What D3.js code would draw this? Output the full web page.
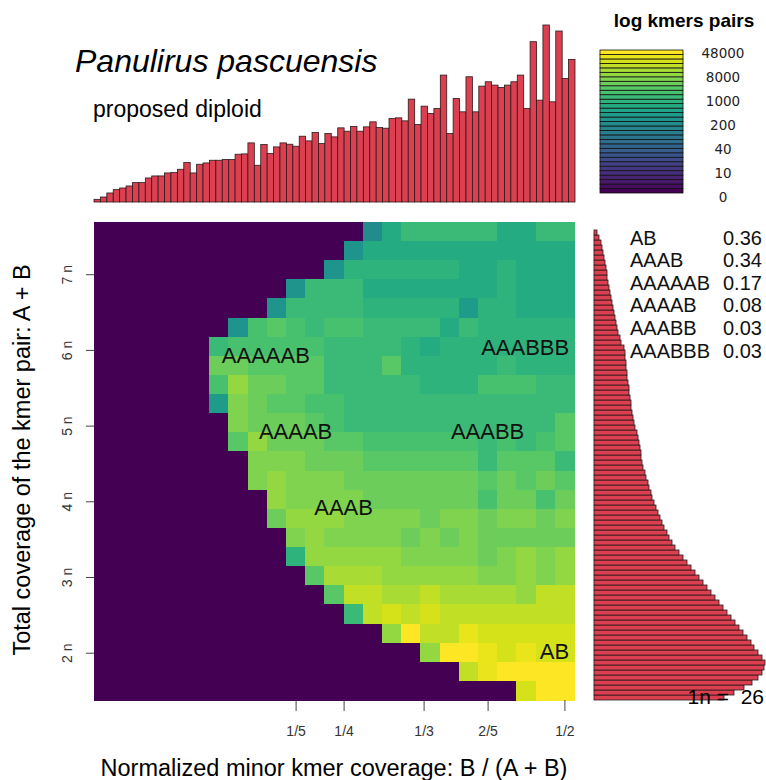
<!DOCTYPE html>
<html>
<head>
<meta charset="utf-8">
<script src="https://d3js.org/d3.v7.min.js"></script>
<style>
  body { margin: 0; background: #fff; }
  svg { display: block; font-family: "Liberation Sans", Arial, sans-serif; }
</style>
</head>
<body>
<div id="chart"></div>
<script>
// smudgeplot of kmer pairs - Panulirus pascuensis

const title = "Panulirus pascuensis";
const subtitle = "proposed diploid";
const oneN = 26;

// heatmap, 25 x 25 cells, rows from top (high coverage) to bottom
// value = position on the log colour scale (0-100), 0 = no kmer pairs
const smudgeRows = [
  [0,0,0,0,0,0,0,0,0,0,0,0,0,0,47,60,66,66,66,66,66,62,62,66,66],
  [0,0,0,0,0,0,0,0,0,0,0,0,0,50,60,61,61,61,61,61,61,61,61,61,61],
  [0,0,0,0,0,0,0,0,0,0,0,0,53,65,65,65,65,65,65,60,60,65,61,61,61],
  [0,0,0,0,0,0,0,0,0,0,50,68,66,66,62,62,62,62,62,60,60,64,60,60,60],
  [0,0,0,0,0,0,0,0,0,52,68,68,66,66,63,63,63,63,63,56,65,65,61,61,61],
  [0,0,0,0,0,0,0,53,70,73,69,68,70,70,66,66,66,66,61,66,63,63,63,63,63],
  [0,0,0,0,0,0,68,70,70,70,70,70,66,66,66,66,64,60,64,64,64,64,64,64,64],
  [0,0,0,0,0,0,76,76,72,72,72,72,68,68,68,72,65,65,65,65,65,66,64,64,64],
  [0,0,0,0,0,0,70,82,76,76,74,74,68,68,68,68,68,65,65,65,70,70,70,66,66],
  [0,0,0,0,0,0,56,80,76,74,74,70,70,68,68,68,68,68,66,66,66,66,66,66,66],
  [0,0,0,0,0,0,0,80,78,78,78,74,70,68,68,68,66,68,68,68,68,68,68,68,72],
  [0,0,0,0,0,0,0,72,82,78,78,76,72,72,70,70,70,70,70,70,68,70,66,70,74],
  [0,0,0,0,0,0,0,0,80,80,80,78,78,78,72,72,72,72,72,72,68,72,72,72,66],
  [0,0,0,0,0,0,0,0,80,84,80,80,80,76,76,76,76,76,76,76,72,76,72,76,72],
  [0,0,0,0,0,0,0,0,0,84,80,80,80,80,76,76,76,76,76,76,70,76,76,70,76],
  [0,0,0,0,0,0,0,0,0,78,84,82,82,80,80,80,80,78,80,80,78,80,80,78,80],
  [0,0,0,0,0,0,0,0,0,0,80,82,80,80,80,80,76,80,76,80,78,78,78,78,78],
  [0,0,0,0,0,0,0,0,0,0,64,84,84,82,82,82,80,80,80,80,78,80,82,80,82],
  [0,0,0,0,0,0,0,0,0,0,0,72,86,86,86,84,84,84,84,84,80,80,84,80,84],
  [0,0,0,0,0,0,0,0,0,0,0,0,74,88,88,86,85,88,87,87,87,87,82,88,88],
  [0,0,0,0,0,0,0,0,0,0,0,0,0,66,89,93,89,93,90,90,90,90,90,90,90],
  [0,0,0,0,0,0,0,0,0,0,0,0,0,0,0,82,97,90,90,95,92,92,92,92,92],
  [0,0,0,0,0,0,0,0,0,0,0,0,0,0,0,0,0,84,97,97,96,92,95,92,92],
  [0,0,0,0,0,0,0,0,0,0,0,0,0,0,0,0,0,0,0,89,96,100,100,100,100],
  [0,0,0,0,0,0,0,0,0,0,0,0,0,0,0,0,0,0,0,0,0,0,92,100,100]
];

// axis range of the heatmap: minor ratio and total coverage (in n)
const ratioRange = [-0.01, 0.49];
const coverageRange = [1.375, 7.69];

const xTicks = [0.2, 0.25, 1/3, 0.4, 0.48];
const xTickLabels = ["1/5", "1/4", "1/3", "2/5", "1/2"];
const yTicks = [2, 3, 4, 5, 6, 7];

// smudge labels placed at smudge centres
const smudgeLabels = ["AAAAAB", "AAABBB", "AAAAB", "AAABB", "AAAB", "AB"];
const smudgeX = [0.169, 0.5, 0.2, 0.4, 0.25, 0.5];
const smudgeY = [5.93, 6.03, 4.93, 4.93, 3.92, 2.02];

// summary of smudge sizes
const summaryNames = ["AB", "AAAB", "AAAAAB", "AAAAB", "AAABB", "AAABBB"];
const summaryProps = [0.36, 0.34, 0.17, 0.08, 0.03, 0.03];

const legendLabels = ["0", "10", "40", "200", "1000", "8000", "48000"];

// top histogram: minor kmer ratio counts (relative)
const minorHist = [8,15,27,37,42,48,58,58,72,78,78,87,88,98,118,87,113,117,125,125,
  127,127,143,144,177,110,172,145,165,177,173,167,197,183,208,175,205,195,222,212,
  226,212,225,240,223,221,250,252,243,308,232,287,265,280,380,205,310,270,375,270,
  347,360,350,343,350,360,380,280,480,305,530,300,512,370,427];

// right histogram: total pair coverage counts (relative), low coverage first
const totalHist = [130,140,150,158,164,168,170,171,168,164,160,157,153,149,145,141,137,133,
  129,125,121,117,113,109,105,101,97,93,89,85,81,78,75,73,70,68,66,64,62,60,58,57,55,54,
  52,51,49,48,47,47,46,45,44,43,41,40,39,38,37,37,36,35,35,34,33,33,32,32,31,31,30,27,26,
  24,23,22,21,20,19,18,17,16,15,14,13,13,12,11,10,9,8,7,5,3];

const width = 766, height = 780;
const histFill = "#dc4050";

const svg = d3.select("#chart").append("svg")
    .attr("width", width)
    .attr("height", height);

// colours: 32 step viridis as in the original
const viridis32 = d3.quantize(d3.interpolateViridis, 32);
const colour = d3.scaleQuantize().domain([0, 100]).range(viridis32);

// heatmap
const plot = { left: 94, right: 574, top: 222, bottom: 700 };

const xCell = d3.scaleBand().domain(d3.range(smudgeRows[0].length)).range([plot.left, plot.right]);
const yCell = d3.scaleBand().domain(d3.range(smudgeRows.length)).range([plot.top, plot.bottom]);
const x = d3.scaleLinear().domain(ratioRange).range([plot.left, plot.right]);
const y = d3.scaleLinear().domain(coverageRange).range([plot.bottom, plot.top]);

const cells = [];
smudgeRows.forEach((row, r) => row.forEach((v, c) => cells.push({ r, c, v })));

svg.append("g")
    .attr("shape-rendering", "crispEdges")
  .selectAll("rect")
  .data(cells)
  .join("rect")
    .attr("x", d => xCell(d.c))
    .attr("y", d => yCell(d.r))
    .attr("width", xCell.bandwidth() + 0.5)
    .attr("height", yCell.bandwidth() + 0.5)
    .attr("fill", d => colour(d.v));

// axes
const xAxis = svg.append("g")
    .attr("transform", `translate(0,${plot.bottom})`)
    .call(d3.axisBottom(x).tickValues(xTicks).tickFormat((d, i) => xTickLabels[i]).tickSize(11));
xAxis.select(".domain").remove();
xAxis.selectAll("line").attr("stroke", "#444");
xAxis.selectAll("text")
    .attr("y", 31)
    .attr("dy", "0.35em")
    .attr("fill", "#333")
    .style("font-size", "14px")
    .style("font-family", "Liberation Sans, Arial, sans-serif");

const yAxis = svg.append("g")
    .attr("transform", `translate(${plot.left},0)`)
    .call(d3.axisLeft(y).tickValues(yTicks).tickFormat(d => d + " n").tickSize(8));
yAxis.select(".domain").remove();
yAxis.selectAll("line").attr("stroke", "#444");
yAxis.selectAll("text")
    .attr("transform", "rotate(-90)")
    .attr("x", 0)
    .attr("y", -27)
    .attr("dy", "0.35em")
    .attr("fill", "#333")
    .style("text-anchor", "middle")
    .style("font-size", "14px")
    .style("font-family", "Liberation Sans, Arial, sans-serif");

svg.append("text")
    .attr("x", 334)
    .attr("y", 768)
    .attr("dy", "0.35em")
    .attr("text-anchor", "middle")
    .style("font-size", "23.5px")
    .text("Normalized minor kmer coverage: B / (A + B)");

svg.append("text")
    .attr("transform", "translate(22,460) rotate(-90)")
    .attr("dy", "0.35em")
    .attr("text-anchor", "middle")
    .style("font-size", "23.5px")
    .text("Total coverage of the kmer pair: A + B");

// smudge labels
svg.append("g")
  .selectAll("text")
  .data(smudgeLabels)
  .join("text")
    .attr("x", (d, i) => smudgeX[i] > 0.48 ? x(0.485) : x(smudgeX[i]))
    .attr("y", (d, i) => y(smudgeY[i]))
    .attr("dy", "0.35em")
    .attr("text-anchor", (d, i) => smudgeX[i] > 0.48 ? "end" : "middle")
    .attr("fill", "#111")
    .style("font-size", "22px")
    .text(d => d);

// top histogram
const xTop = d3.scaleBand().domain(d3.range(minorHist.length)).range([94, 575]);
const yTop = d3.scaleLinear().domain([0, d3.max(minorHist)]).range([202, 25]);

svg.append("g")
  .selectAll("rect")
  .data(minorHist)
  .join("rect")
    .attr("x", (d, i) => xTop(i))
    .attr("y", d => yTop(d))
    .attr("width", xTop.bandwidth())
    .attr("height", d => yTop(0) - yTop(d))
    .attr("fill", histFill)
    .attr("stroke", "#2a1a1a")
    .attr("stroke-width", 0.8);

// right histogram
const yRight = d3.scaleBand().domain(d3.range(totalHist.length)).range([700, 230]);
const xRight = d3.scaleLinear().domain([0, d3.max(totalHist)]).range([594, 765]);

svg.append("g")
  .selectAll("rect")
  .data(totalHist)
  .join("rect")
    .attr("x", xRight(0))
    .attr("y", (d, i) => yRight(i))
    .attr("width", d => xRight(d) - xRight(0))
    .attr("height", yRight.bandwidth())
    .attr("fill", histFill)
    .attr("stroke", "#2a1a1a")
    .attr("stroke-width", 0.8);

svg.append("text")
    .attr("x", 764)
    .attr("y", 697)
    .attr("dy", "0.35em")
    .attr("text-anchor", "end")
    .style("font-size", "21px")
    .style("white-space", "pre")
    .text("1n =  " + oneN);

// title
svg.append("text")
    .attr("x", 75)
    .attr("y", 72)
    .style("font-size", "32px")
    .style("font-style", "italic")
    .text(title);

svg.append("text")
    .attr("x", 93)
    .attr("y", 117)
    .style("font-size", "23px")
    .text(subtitle);

// summary table
const ySum = d3.scalePoint().domain(summaryNames).range([237.5, 350.5]);
const summary = svg.append("g").style("font-size", "20px").attr("fill", "#111");
summary.selectAll(".name")
  .data(summaryNames)
  .join("text")
    .attr("class", "name")
    .attr("x", 630)
    .attr("y", d => ySum(d))
    .attr("dy", "0.35em")
    .text(d => d);
summary.selectAll(".prop")
  .data(summaryProps)
  .join("text")
    .attr("class", "prop")
    .attr("x", 723)
    .attr("y", (d, i) => ySum(summaryNames[i]))
    .attr("dy", "0.35em")
    .text(d => d.toFixed(2));

// colour legend
const yLeg = d3.scaleBand().domain(d3.range(32)).range([193, 50]);
svg.append("g")
  .selectAll("rect")
  .data(viridis32)
  .join("rect")
    .attr("x", 600)
    .attr("y", (d, i) => yLeg(i))
    .attr("width", 83)
    .attr("height", yLeg.bandwidth())
    .attr("fill", d => d)
    .attr("stroke", "#111")
    .attr("stroke-width", 0.8);

const yLegLab = d3.scalePoint().domain(legendLabels).range([197, 53]);
svg.append("g")
  .selectAll("text")
  .data(legendLabels)
  .join("text")
    .attr("x", 723)
    .attr("y", d => yLegLab(d))
    .attr("dy", "0.35em")
    .attr("text-anchor", "middle")
    .attr("fill", "#222")
    .style("font-family", "DejaVu Sans, sans-serif")
    .style("font-size", "13.5px")
    .text(d => d);

svg.append("text")
    .attr("x", 684)
    .attr("y", 27)
    .attr("text-anchor", "middle")
    .style("font-size", "19px")
    .style("font-weight", "bold")
    .text("log kmers pairs");
</script>
</body>
</html>
